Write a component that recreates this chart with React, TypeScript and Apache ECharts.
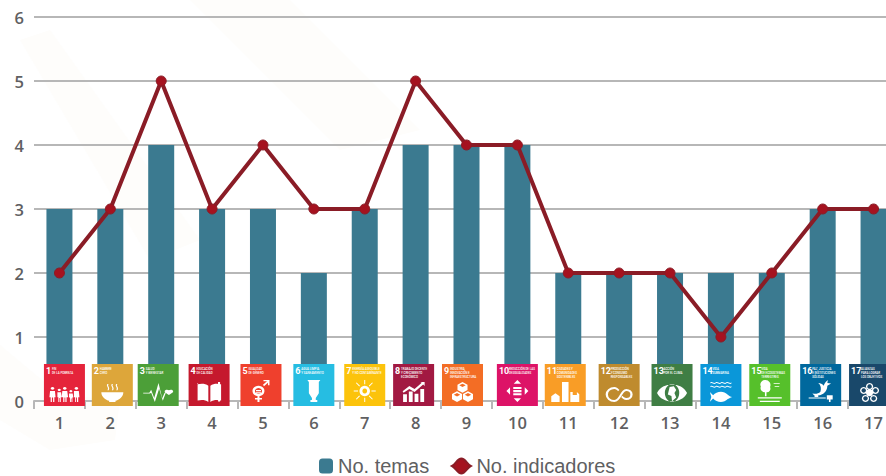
import React, { useEffect, useRef } from "react";
import * as echarts from "echarts";

const categories = ["1","2","3","4","5","6","7","8","9","10","11","12","13","14","15","16","17"];
const temas = [3,3,4,3,3,2,3,4,4,4,2,2,2,2,2,3,3];
const indicadores = [2,3,5,3,4,3,3,5,4,4,2,2,2,1,2,3,3];
const iconNames = [
  "FIN\nDE LA POBREZA","HAMBRE\nCERO","SALUD\nY BIENESTAR","EDUCACIÓN\nDE CALIDAD","IGUALDAD\nDE GÉNERO",
  "AGUA LIMPIA\nY SANEAMIENTO","ENERGÍA ASEQUIBLE\nY NO CONTAMINANTE","TRABAJO DECENTE\nY CRECIMIENTO\nECONÓMICO",
  "INDUSTRIA,\nINNOVACIÓN E\nINFRAESTRUCTURA","REDUCCIÓN DE LAS\nDESIGUALDADES","CIUDADES Y\nCOMUNIDADES\nSOSTENIBLES",
  "PRODUCCIÓN\nY CONSUMO\nRESPONSABLES","ACCIÓN\nPOR EL CLIMA","VIDA\nSUBMARINA","VIDA\nDE ECOSISTEMAS\nTERRESTRES",
  "PAZ, JUSTICIA\nE INSTITUCIONES\nSÓLIDAS","ALIANZAS\nPARA LOGRAR\nLOS OBJETIVOS",
];
const iconColors = ["#e5243b","#dda63a","#4c9f38","#c5192d","#ef402d","#26bde2","#fcc30b","#a21942","#f36d25","#dd1367","#f99d26","#bf8b2e","#3f7e44","#0a97d9","#56c02b","#00689d","#19486a"];
// horizontal nudge of each badge from its category centre, in px
const iconNudge = [5,2,-3,-3,-2,0,0,-2,-4,0,-3,0,2,0,-2,-2,-4];
// glyph box of each badge, in px
const glyphWidths = [30,22,30,24,17,13,22,22,21,22,28,27,30,22,24,24,19];
const glyphHeights = [15,18,19,20,22,22,22,20,20,22,20,15,18,20,22,22,19];

const glyphs = [
  "M12 40a6 6 0 1 1 .1 0M4 46h16l2 28h-4v22h-4V76h-4v20H6V74H2zM34 46a5 5 0 1 1 .1 0M28 52h12l2 22h-3v22h-3V78h-2v18h-3V74h-3zM52 40a6 6 0 1 1 .1 0M44 46h16l3 28h-5v22h-4V76h-3v20h-4V74h-5zM72 52a5 5 0 1 1 .1 0M66 58h12l2 18h-3v20h-3V80h-2v16h-3V76h-3zM90 40a6 6 0 1 1 .1 0M82 46h16l2 28h-4v22h-4V76h-3v20h-3V74h-4z",
  "M5 48h90c0 24-18 40-32 44v6H37v-6C23 88 5 72 5 48zM30 6c-8 10 8 16 0 32h5c8-16-8-22 0-32zM48 6c-8 10 8 16 0 32h5c8-16-8-22 0-32zM66 6c-8 10 8 16 0 32h5c8-16-8-22 0-32z",
  "M0 56h20l6-14 10 40 14-74 12 76 8-28h4l-10 40-12-60-14 66-12-46-4 4H0zM84 44c5-6 14-2 14 5 0 8-10 14-14 18-4-4-14-10-14-18 0-7 9-11 14-5z",
  "M4 18c14-4 30-4 42 6v70C34 84 18 84 4 88zM54 24c12-10 28-10 42-6v70c-14-4-30-4-42 6zM2 12h4v2H2zM84 8h8v84h-8z",
  "M44 26a24 24 0 1 1-.1 0zM44 36a14 14 0 1 0 .1 0zM34 46h20v5H34zM34 56h20v5H34zM40 73h8v9h10v7H48v11h-8V89H30v-7h10zM62 22l16-16h-14V0h24v24h-6V12L66 28z",
  "M16 4h68l-8 8v46L60 78v8h8v8H32v-8h8v-8L24 58V12zM50 30c8 12 14 18 14 26a14 14 0 0 1-28 0c0-8 6-14 14-26z",
  "M50 28a22 22 0 1 1-.1 0zM50 40a10 10 0 1 0 .1 0zM48 4h4v18h-4zM48 78h4v18h-4zM4 48h18v4H4zM78 48h18v4H78zM16 14l14 14-3 3-14-14zM70 69l14 14-3 3-14-14zM84 17L70 31l-3-3 14-14zM30 72L16 86l-3-3 14-14z",
  "M6 60h16v36H6zM30 48h16v48H30zM54 58h16v38H54zM78 36h16v60H78zM4 46L32 22l22 14L84 8l-6-4h18v18l-6-6-36 34-22-14L8 54z",
  "M50 4l22 12v24L50 52 28 40V16zM26 46l22 12v24L26 94 4 82V58zM74 46l22 12v24L74 94 52 82V58zM50 12L36 19l14 8 14-8zM26 54l-14 7 14 8 14-8zM74 54l-14 7 14 8 14-8z",
  "M50 2l16 16H34zM50 98L34 82h32zM2 50l16-16v32zM98 50L82 34v32zM32 32h36v9H32zM32 46h36v9H32zM32 60h36v9H32z",
  "M40 4h22v92H40zM46 12h4v6h-4zM54 12h4v6h-4zM46 24h4v6h-4zM54 24h4v6h-4zM4 70l14-14 14 14v26H4zM68 50h8v14h14V50l8 10v36H68z",
  "M30 28a22 22 0 1 0 0 44c18 0 22-44 42-44a22 22 0 1 1 0 44c-8 0-14-6-18-12l5-5c3 5 7 9 13 9a14 14 0 1 0 0-28c-14 0-20 44-42 44a30 30 0 0 1 0-60c8 0 14 6 18 12l-5 5c-3-5-7-9-13-9z",
  "M0 50C18 20 82 20 100 50 82 80 18 80 0 50zM50 26a24 24 0 1 0 .1 0zM42 34l14-2 8 10-6 8 6 12-14 10-2-14-12-4z",
  "M4 8c8-6 14 6 23 0s15 6 23 0 15 6 23 0 15 6 23 0v4c-8 6-15-6-23 0s-15-6-23 0-15-6-23 0-15-6-23 0zM4 22c8-6 14 6 23 0s15 6 23 0 15 6 23 0 15 6 23 0v4c-8 6-15-6-23 0s-15-6-23 0-15-6-23 0-15-6-23 0zM2 44l14 12c14-14 44-20 64-2 8 6 14 8 18 8-4 2-10 4-18 8-20 18-50 12-64-2L2 80l6-18z",
  "M30 8a20 20 0 0 1 18 28 14 14 0 0 1-14 20v16h-6V56a16 16 0 0 1-16-22A18 18 0 0 1 30 8zM62 20h24v3H62zM66 32h18v3H66zM0 76h94v5H0zM8 90h78v5H8z",
  "M14 64c10 4 22 2 30-6 4-12 2-26-8-34 8 0 16 4 20 10 4-8 8-16 16-22l-2 12 14 2-14 8c0 22-16 36-34 38v6H22v-5c-4-2-6-6-8-9zM0 80h64v4H0zM68 72h22v16H68zM76 88h6v10h-6z",
  "M50 32a16 16 0 1 1-.1 0zM50 4a16 16 0 1 1-.1 0zM50 10a10 10 0 1 0 .1 0zM24 22a16 16 0 1 1-.1 0zM24 28a10 10 0 1 0 .1 0zM76 22a16 16 0 1 1-.1 0zM76 28a10 10 0 1 0 .1 0zM32 58a16 16 0 1 1-.1 0zM32 64a10 10 0 1 0 .1 0zM68 58a16 16 0 1 1-.1 0zM68 64a10 10 0 1 0 .1 0z",
];

const FONT = "Open Sans";
const LEGEND_FONT = "Liberation Sans";
const GREY = "#b7b7b7";
const LABEL = "#5f6062";
const LEGEND_ICON = "path://M0 50C20 40 28 10 50 10S80 40 100 50C80 60 72 90 50 90S20 60 0 50z";

export default function App() {
  const ref = useRef<HTMLDivElement>(null);
  useEffect(() => {
    if (!ref.current) return;
    const chart = echarts.init(ref.current, undefined, { renderer: "svg" });
    chart.setOption({
      animation: false,
      backgroundColor: "#ffffff",
      graphic: [
        { type: "polygon", silent: true, z: -10, shape: { points: [[0,345],[60,395],[120,400],[115,440],[50,450],[0,420]] }, style: { fill: "#fefdfb" } },
        { type: "polygon", silent: true, z: -10, shape: { points: [[20,40],[50,30],[200,240],[150,260]] }, style: { fill: "#fefdfb" } },
        { type: "polygon", silent: true, z: -10, shape: { points: [[190,0],[290,0],[420,130],[340,150]] }, style: { fill: "#fefdfb" } },
      ],
      grid: { left: 34, right: -13, top: 17, bottom: 75, containLabel: false, outerBoundsMode: "none" },
      legend: [
        { data: ["No. temas"], left: 319, top: 456, itemWidth: 14, itemHeight: 15, padding: 0,
          textStyle: { fontFamily: LEGEND_FONT, fontSize: 20, color: LABEL } },
        { data: [{ name: "No. indicadores", icon: LEGEND_ICON }], left: 451, top: 456, itemWidth: 20, itemHeight: 15, padding: 0,
          textStyle: { fontFamily: LEGEND_FONT, fontSize: 20, color: LABEL } },
      ],
      xAxis: {
        type: "category", data: categories,
        axisLine: { lineStyle: { color: GREY, width: 2 } },
        axisTick: { show: true, length: 8, alignWithLabel: false, lineStyle: { color: GREY, width: 2 } },
        axisLabel: { fontFamily: FONT, fontSize: 16.5, fontWeight: 600, color: LABEL, margin: 13 },
      },
      yAxis: {
        type: "value", min: 0, max: 6, interval: 1,
        axisLine: { show: false }, axisTick: { show: false },
        splitLine: { lineStyle: { color: GREY, width: 2 } },
        axisLabel: { fontFamily: FONT, fontSize: 16.5, fontWeight: 600, color: LABEL, margin: 10 },
      },
      series: [
        { name: "No. temas", type: "bar", data: temas, barWidth: 26, itemStyle: { color: "#3b7a90" }, z: 2 },
        {
          name: "badges", type: "custom", z: 3, silent: true, clip: false,
          data: categories.map((_, i) => [i, 0]),
          encode: { x: 0, y: 1 },
          renderItem: (params: any, api: any) => {
            const i = params.dataIndex;
            const c = api.coord([i, 0]);
            const s = 41;
            const x = c[0] - s / 2 + iconNudge[i];
            const y = c[1] - 37;
            const gw = glyphWidths[i];
            const gh = glyphHeights[i];
            return {
              type: "group",
              children: [
                { type: "rect", shape: { x, y, width: s, height: 42 }, style: { fill: iconColors[i] } },
                { type: "text", style: { x: x + 2, y: y + 2, text: String(i + 1), fill: "#fff", font: `700 9px Roboto`, textAlign: "left", textVerticalAlign: "top" } },
                { type: "text", style: { x: x + (i >= 9 ? 12 : 8), y: y + 3, text: iconNames[i], fill: "#fff", font: `500 2.9px Roboto`, lineHeight: 3.8, textAlign: "left", textVerticalAlign: "top" } },
                { type: "path", shape: { pathData: glyphs[i], x: x + (s - gw) / 2, y: y + 38 - gh, width: gw, height: gh, layout: "cover" }, style: { fill: "#fff", fillRule: "evenodd" } },
              ],
            };
          },
        },
        {
          name: "No. indicadores", type: "line", data: indicadores, z: 4,
          symbol: "circle", symbolSize: 10, showSymbol: true,
          lineStyle: { color: "#8a1c26", width: 4 },
          itemStyle: { color: "#a5121f", borderColor: "#8a1c26", borderWidth: 1 },
        },
      ],
    });
    return () => chart.dispose();
  }, []);
  return <div ref={ref} style={{ position: "absolute", left: 0, top: 0, width: 886, height: 476 }} />;
}
